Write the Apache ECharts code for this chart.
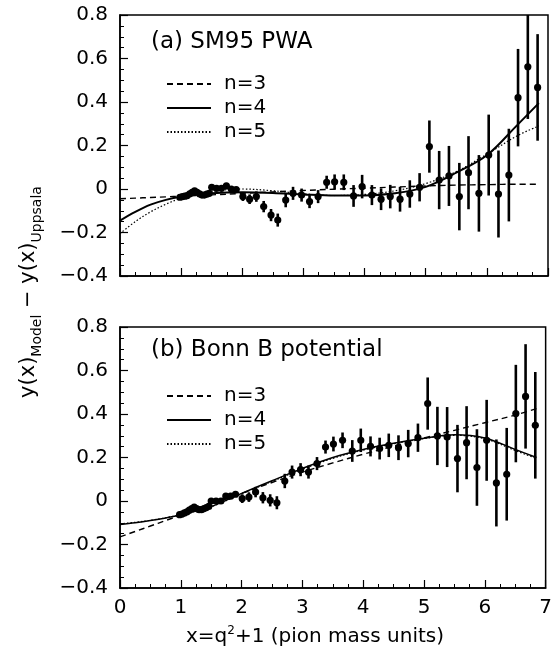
<!DOCTYPE html>
<html>
<head>
<meta charset="utf-8">
<script src="https://cdn.jsdelivr.net/npm/echarts@6/dist/echarts.min.js"></script>
<style>
html,body{margin:0;padding:0;background:#fff;}
#c{width:555px;height:656px;}
</style>
</head>
<body>
<div id="c"></div>
<script>
// ---- data ----
const xs = [0.98,1.02,1.06,1.10,1.14,1.18,1.22,1.26,1.30,1.34,1.38,1.42,1.46,
  1.50,1.58,1.66,1.74,1.82,1.90,
  2.01,2.12,2.23,2.35,2.47,2.58,2.71,2.83,2.97,3.10,3.24,3.38,3.51,3.66,3.82,3.96,
  4.12,4.27,4.42,4.58,4.74,4.90,5.06,5.22,5.38,5.55,5.70,5.87,6.03,6.19,6.36,6.51,6.67,6.83];
const topY = [-0.038,-0.035,-0.033,-0.030,-0.022,-0.015,-0.008,-0.015,-0.022,-0.028,-0.028,-0.024,-0.020,
  0.008,0.003,0.003,0.014,0.000,-0.003,
  -0.035,-0.047,-0.035,-0.081,-0.120,-0.143,-0.051,-0.020,-0.028,-0.058,-0.035,0.031,0.033,0.031,-0.032,0.011,
  -0.028,-0.047,-0.035,-0.047,-0.023,0.008,0.195,0.041,0.060,-0.035,0.075,-0.020,0.156,-0.023,0.064,0.420,0.562,0.467];
const botY = [-0.063,-0.060,-0.055,-0.050,-0.042,-0.035,-0.028,-0.035,-0.040,-0.040,-0.035,-0.030,-0.025,
  0.000,0.000,0.000,0.022,0.022,0.031,
  0.011,0.018,0.041,0.015,0.003,-0.008,0.092,0.133,0.144,0.133,0.172,0.248,0.262,0.279,0.230,0.279,
  0.251,0.241,0.256,0.245,0.264,0.291,0.448,0.299,0.294,0.195,0.268,0.154,0.279,0.083,0.123,0.402,0.481,0.348];
const errs = [0.008,0.008,0.008,0.008,0.008,0.008,0.008,0.008,0.008,0.008,0.008,0.008,0.008,
  0.012,0.012,0.012,0.012,0.012,0.012,
  0.020,0.022,0.024,0.026,0.028,0.030,0.033,0.030,0.030,0.030,0.030,0.030,0.034,0.036,0.050,0.054,
  0.046,0.050,0.054,0.057,0.063,0.065,0.120,0.134,0.138,0.155,0.168,0.176,0.186,0.200,0.213,0.224,0.240,0.245];

const curveX = [0,0.25,0.5,0.75,1,1.5,2,2.5,3,3.5,4,4.5,5,5.5,6,6.5,6.85];
const topN3 = [-0.045,-0.042,-0.039,-0.036,-0.033,-0.027,-0.020,-0.013,-0.007,-0.001,0.004,0.009,0.014,0.018,0.020,0.022,0.022];
const topN4 = [-0.145,-0.105,-0.072,-0.050,-0.036,-0.020,-0.015,-0.018,-0.025,-0.030,-0.030,-0.020,0.010,0.075,0.155,0.295,0.395];
const topN5 = [-0.205,-0.150,-0.105,-0.070,-0.043,-0.012,0.000,-0.008,-0.022,-0.030,-0.025,-0.008,0.025,0.080,0.160,0.245,0.290];
const botN3 = [-0.165,-0.140,-0.115,-0.090,-0.065,-0.015,0.035,0.085,0.133,0.175,0.215,0.252,0.290,0.325,0.360,0.395,0.425];
const botN4 = [-0.108,-0.100,-0.090,-0.078,-0.063,-0.025,0.035,0.093,0.150,0.200,0.237,0.265,0.288,0.305,0.290,0.237,0.200];
const botN5 = [-0.105,-0.098,-0.089,-0.077,-0.063,-0.026,0.033,0.090,0.146,0.196,0.234,0.263,0.287,0.302,0.286,0.232,0.195];

const xTicks = [0,1,2,3,4,5,6,7];
const yTicks = [-0.4,-0.2,0,0.2,0.4,0.6,0.8];
const legendNames = ['n=3','n=4','n=5'];
const panelLabels = ['(a) SM95 PWA','(b) Bonn B potential'];

// ---- chart ----
const FONT = 'DejaVu Sans';
const chart = echarts.init(document.getElementById('c'), null, {renderer:'canvas'});
const pair = (a,b)=>a.map((v,i)=>[v,b[i]]);

function yFmt(v){
  const r = Math.round(v*10)/10;
  if (r === 0) return '0';
  return (r<0?'\u2212':'') + Math.abs(r).toFixed(1);
}

function xAxisCfg(idx, showLabels){
  return {
    gridIndex: idx, type:'value', min: xTicks[0], max: xTicks[xTicks.length-1], interval: 1,
    axisLine:{show:true, onZero:false, lineStyle:{color:'#000', width:1.5}},
    axisTick:{show:true, inside:true, length:8, lineStyle:{color:'#000', width:1.2}},
    minorTick:{show:true, splitNumber:4, length:4, lineStyle:{color:'#000', width:1}},
    splitLine:{show:false},
    axisLabel:{show:showLabels, color:'#000', fontFamily:FONT, fontSize:20, margin:10,
      formatter: v=>String(Math.round(v))}
  };
}
function yAxisCfg(idx){
  return {
    gridIndex: idx, type:'value', min: yTicks[0], max: yTicks[yTicks.length-1], interval: 0.2,
    axisLine:{show:true, onZero:false, lineStyle:{color:'#000', width:1.5}},
    axisTick:{show:true, inside:true, length:8, lineStyle:{color:'#000', width:1.2}},
    minorTick:{show:true, splitNumber:4, length:4, lineStyle:{color:'#000', width:1}},
    splitLine:{show:false},
    axisLabel:{color:'#000', fontFamily:FONT, fontSize:20, margin:12, formatter:yFmt}
  };
}

function errSeries(idx, ys){
  return {
    type:'custom', xAxisIndex:idx, yAxisIndex:idx, clip:true, z:5,
    data: xs.map((x,i)=>[x, ys[i], errs[i]]),
    renderItem: function(params, api){
      const x = api.value(0), y = api.value(1), e = api.value(2);
      const lo = api.coord([x, y-e]), hi = api.coord([x, y+e]), c = api.coord([x, y]);
      return {type:'group', children:[
        {type:'line', shape:{x1:lo[0], y1:lo[1], x2:hi[0], y2:hi[1]}, style:{stroke:'#000', lineWidth:2.6}},
        {type:'circle', shape:{cx:c[0], cy:c[1], r:3.6}, style:{fill:'#000'}}
      ]};
    }
  };
}
function curve(idx, name, ys, type, width){
  return {
    type:'line', name:name, xAxisIndex:idx, yAxisIndex:idx, data: pair(curveX, ys),
    smooth:0.35, showSymbol:false, symbol:'none', silent:true, z:3,
    lineStyle:{color:'#000', width:width, type:type}, itemStyle:{color:'#000'}
  };
}

const dash = [6,4], dot = [1.5,2];
function legendCfg(top, data){
  return {
    orient:'vertical', left:161, top:top, itemWidth:44, itemHeight:14, itemGap:4,
    selectedMode:false, data:data,
    itemStyle:{color:'rgba(0,0,0,0)', borderWidth:0, opacity:0},
    formatter: function(n){ return legendNames[Number(n.slice(1)) - 3]; },
    textStyle:{color:'#000', fontFamily:FONT, fontSize:20, padding:[0,0,0,8]}
  };
}

chart.setOption({
  animation:false,
  backgroundColor:'#fff',
  grid:[
    {left:120, top:15, width:428, height:261, show:true, borderColor:'#000', borderWidth:1.5, backgroundColor:'transparent'},
    {left:120, top:327, width:428, height:261, show:true, borderColor:'#000', borderWidth:1.5, backgroundColor:'transparent'}
  ],
  xAxis:[xAxisCfg(0,false), xAxisCfg(1,true)],
  yAxis:[yAxisCfg(0), yAxisCfg(1)],
  legend:[legendCfg(69, ['a3','a4','a5']), legendCfg(381, ['b3','b4','b5'])],
  series:[
    curve(0,'a3',topN3,dash,1.4),
    curve(0,'a4',topN4,'solid',2),
    curve(0,'a5',topN5,dot,1.2),
    errSeries(0, topY),
    curve(1,'b3',botN3,dash,1.4),
    curve(1,'b4',botN4,'solid',1.5),
    curve(1,'b5',botN5,dot,1.2),
    errSeries(1, botY)
  ],
  graphic:[
    {type:'text', left:151, top:31, style:{text:panelLabels[0], fill:'#000', font:'23px "'+FONT+'"'}},
    {type:'text', left:151, top:339, style:{text:panelLabels[1], fill:'#000', font:'23px "'+FONT+'"'}},
    {type:'text', x:315, y:637, style:{
      text:'{n|x=q}{s|2}{n|+1 (pion mass units)}', align:'center', verticalAlign:'middle',
      rich:{n:{fontFamily:FONT, fontSize:20, lineHeight:24, fill:'#000', verticalAlign:'middle'},
            s:{fontFamily:FONT, fontSize:12, lineHeight:12, fill:'#000', verticalAlign:'top'}}
    }},
    {type:'text', x:29, y:292, rotation:Math.PI/2, style:{
      text:'{n|y(x)}{s|Model}{n| \u2212 y(x)}{s|Uppsala}', align:'center', verticalAlign:'middle',
      rich:{n:{fontFamily:FONT, fontSize:21, lineHeight:30, fill:'#000', verticalAlign:'middle'},
            s:{fontFamily:FONT, fontSize:14, lineHeight:14, fill:'#000', verticalAlign:'bottom'}}
    }}
  ]
});
</script>
</body>
</html>
